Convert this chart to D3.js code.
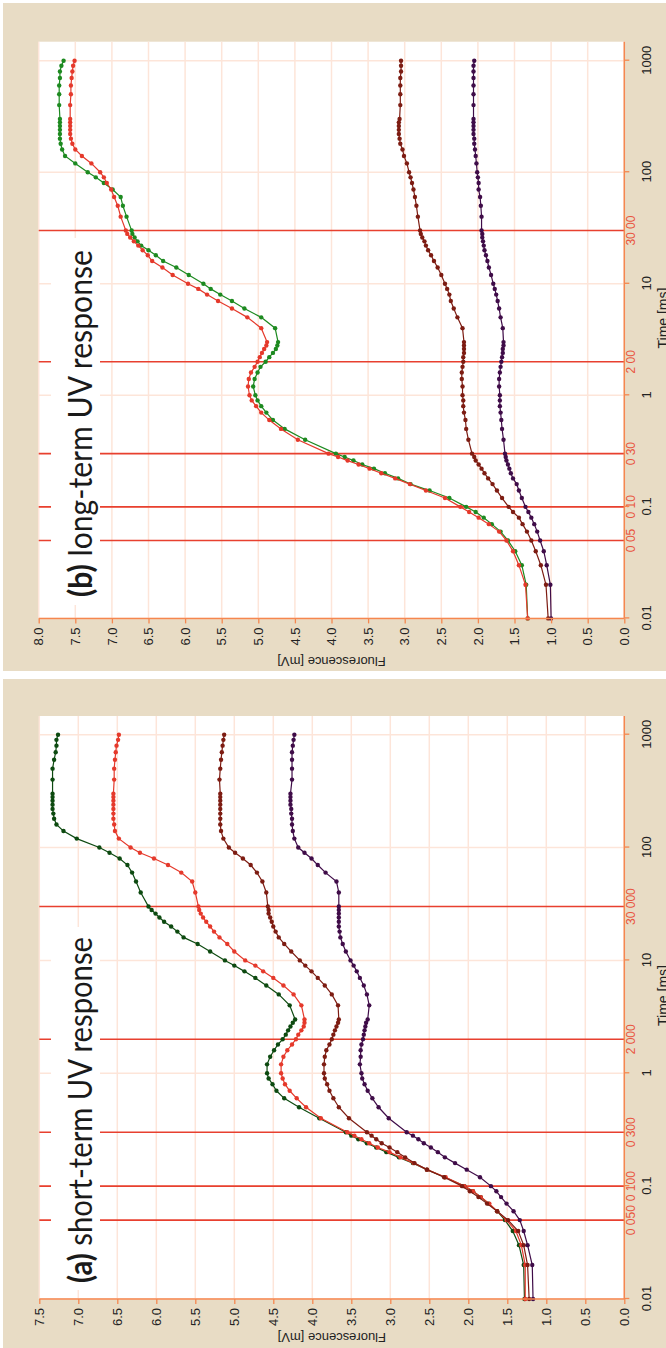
<!DOCTYPE html>
<html>
<head>
<meta charset="utf-8">
<script src="https://cdnjs.cloudflare.com/ajax/libs/d3/7.8.5/d3.min.js"></script>
<style>
  html, body { margin: 0; padding: 0; background: #fff; }
  svg { display: block; }
</style>
</head>
<body>
<div id="chart"></div>
<script>
// time points (ms), shared by every trace
const times = [0.01, 0.02, 0.03, 0.04, 0.05, 0.06, 0.07, 0.08, 0.09, 0.1,
  0.12, 0.14, 0.16, 0.18, 0.2, 0.22, 0.24, 0.26, 0.28, 0.3,
  0.4, 0.5, 0.6, 0.7, 0.8, 0.9, 1,
  1.2, 1.4, 1.6, 1.8, 2, 2.2, 2.4, 2.6, 2.8, 3,
  4, 5, 6, 7, 8, 9, 10,
  12, 14, 16, 18, 20, 22, 24, 26, 28, 30,
  40, 50, 60, 70, 80, 90, 100,
  120, 140, 160, 180, 200, 220, 240, 260, 280, 300,
  400, 500, 600, 700, 800, 900, 1000];

// (a) short-term UV response, fluorescence in mV
const aGreen = [1.28, 1.29, 1.35, 1.43, 1.53, 1.63, 1.74, 1.84, 1.94, 2.05,
  2.30, 2.53, 2.71, 2.89, 3.05, 3.18, 3.30, 3.41, 3.50, 3.57,
  3.91, 4.17, 4.36, 4.46, 4.51, 4.56, 4.58,
  4.58, 4.54, 4.49, 4.44, 4.38, 4.34, 4.31, 4.28, 4.25, 4.22,
  4.29, 4.43, 4.59, 4.73, 4.87, 5.00, 5.12,
  5.31, 5.47, 5.65, 5.73, 5.81, 5.90, 5.96, 6.01, 6.06, 6.10,
  6.20, 6.26, 6.31, 6.37, 6.47, 6.60, 6.73,
  7.02, 7.19, 7.28, 7.31, 7.32, 7.33, 7.33, 7.33, 7.33, 7.33,
  7.33, 7.33, 7.31, 7.29, 7.28, 7.28, 7.26];
const aRed = [1.27, 1.27, 1.32, 1.39, 1.51, 1.63, 1.73, 1.84, 1.94, 2.05,
  2.29, 2.53, 2.70, 2.87, 3.01, 3.16, 3.27, 3.37, 3.46, 3.55,
  3.89, 4.08, 4.20, 4.29, 4.35, 4.38, 4.40,
  4.40, 4.37, 4.32, 4.26, 4.21, 4.18, 4.14, 4.11, 4.10, 4.10,
  4.14, 4.24, 4.37, 4.50, 4.63, 4.73, 4.86,
  5.00, 5.09, 5.19, 5.26, 5.31, 5.36, 5.40, 5.43, 5.45, 5.46,
  5.50, 5.54, 5.68, 5.85, 6.03, 6.21, 6.33,
  6.48, 6.53, 6.54, 6.55, 6.55, 6.55, 6.55, 6.55, 6.55, 6.55,
  6.54, 6.54, 6.53, 6.52, 6.51, 6.49, 6.48];
const aBrown = [1.22, 1.24, 1.29, 1.36, 1.49, 1.63, 1.76, 1.87, 1.98, 2.08,
  2.31, 2.53, 2.69, 2.81, 2.91, 3.01, 3.11, 3.18, 3.24, 3.30,
  3.53, 3.66, 3.73, 3.78, 3.81, 3.84, 3.85,
  3.85, 3.84, 3.82, 3.78, 3.75, 3.73, 3.71, 3.69, 3.67, 3.66,
  3.67, 3.75, 3.84, 3.93, 4.01, 4.09, 4.16,
  4.27, 4.36, 4.43, 4.47, 4.50, 4.52, 4.54, 4.56, 4.56, 4.57,
  4.59, 4.64, 4.71, 4.79, 4.89, 4.99, 5.07,
  5.14, 5.17, 5.18, 5.18, 5.18, 5.18, 5.18, 5.18, 5.18, 5.18,
  5.19, 5.18, 5.17, 5.16, 5.15, 5.14, 5.13];
const aPurple = [1.17, 1.18, 1.24, 1.29, 1.34, 1.42, 1.51, 1.58, 1.64, 1.71,
  1.85, 2.02, 2.17, 2.30, 2.39, 2.48, 2.57, 2.64, 2.71, 2.79,
  3.02, 3.15, 3.23, 3.29, 3.33, 3.36, 3.37,
  3.39, 3.38, 3.38, 3.37, 3.35, 3.34, 3.33, 3.32, 3.31, 3.29,
  3.27, 3.30, 3.34, 3.39, 3.43, 3.47, 3.51,
  3.57, 3.61, 3.64, 3.65, 3.66, 3.66, 3.66, 3.66, 3.66, 3.66,
  3.66, 3.69, 3.83, 3.93, 4.01, 4.10, 4.18,
  4.23, 4.25, 4.26, 4.26, 4.27, 4.27, 4.28, 4.28, 4.28, 4.28,
  4.26, 4.26, 4.26, 4.26, 4.25, 4.24, 4.23];

// (b) long-term UV response
const bGreen = [1.32, 1.34, 1.40, 1.49, 1.59, 1.69, 1.81, 1.92, 2.03, 2.16,
  2.39, 2.66, 2.92, 3.09, 3.27, 3.42, 3.58, 3.70, 3.82, 3.94,
  4.36, 4.64, 4.80, 4.89, 4.96, 5.01, 5.04,
  5.07, 5.05, 5.01, 4.97, 4.90, 4.85, 4.80, 4.76, 4.74, 4.73,
  4.77, 4.96, 5.19, 5.36, 5.52, 5.65, 5.75,
  5.95, 6.12, 6.30, 6.40, 6.50, 6.60, 6.65, 6.69, 6.72, 6.73,
  6.80, 6.85, 6.88, 6.99, 7.11, 7.22, 7.33,
  7.50, 7.64, 7.68, 7.70, 7.71, 7.71, 7.71, 7.71, 7.71, 7.71,
  7.72, 7.72, 7.72, 7.71, 7.71, 7.69, 7.66];
const bRed = [1.32, 1.35, 1.44, 1.52, 1.61, 1.71, 1.85, 1.99, 2.12, 2.24,
  2.45, 2.71, 2.93, 3.13, 3.32, 3.48, 3.63, 3.78, 3.91, 4.04,
  4.46, 4.69, 4.85, 4.96, 5.03, 5.09, 5.12,
  5.14, 5.13, 5.10, 5.05, 5.01, 4.98, 4.95, 4.92, 4.89, 4.88,
  4.96, 5.15, 5.36, 5.55, 5.70, 5.82, 5.96,
  6.17, 6.31, 6.45, 6.51, 6.58, 6.64, 6.70, 6.75, 6.79, 6.81,
  6.88, 6.92, 6.97, 7.01, 7.07, 7.11, 7.16,
  7.28, 7.41, 7.50, 7.54, 7.56, 7.57, 7.57, 7.57, 7.57, 7.57,
  7.57, 7.56, 7.56, 7.55, 7.54, 7.53, 7.51];
const bBrown = [1.04, 1.07, 1.14, 1.21, 1.27, 1.33, 1.39, 1.44, 1.52, 1.58,
  1.67, 1.74, 1.80, 1.86, 1.91, 1.95, 1.99, 2.03, 2.05, 2.08,
  2.13, 2.16, 2.17, 2.19, 2.20, 2.20, 2.21,
  2.21, 2.22, 2.22, 2.21, 2.20, 2.20, 2.19, 2.19, 2.19, 2.19,
  2.21, 2.28, 2.33, 2.37, 2.39, 2.42, 2.45,
  2.50, 2.55, 2.60, 2.64, 2.68, 2.71, 2.73, 2.76, 2.78, 2.79,
  2.82, 2.84, 2.86, 2.88, 2.90, 2.92, 2.94,
  2.97, 3.01, 3.03, 3.06, 3.07, 3.08, 3.08, 3.08, 3.08, 3.07,
  3.06, 3.06, 3.06, 3.06, 3.05, 3.05, 3.05];
const bPurple = [1.00, 1.01, 1.06, 1.10, 1.15, 1.19, 1.23, 1.27, 1.31, 1.35,
  1.40, 1.44, 1.47, 1.52, 1.55, 1.57, 1.59, 1.61, 1.62, 1.63,
  1.65, 1.67, 1.68, 1.69, 1.70, 1.70, 1.70,
  1.71, 1.71, 1.70, 1.69, 1.68, 1.67, 1.66, 1.66, 1.65, 1.65,
  1.66, 1.69, 1.71, 1.73, 1.75, 1.77, 1.79,
  1.82, 1.85, 1.87, 1.89, 1.91, 1.92, 1.93, 1.94, 1.94, 1.95,
  1.95, 1.96, 1.97, 1.99, 1.99, 2.00, 2.01,
  2.02, 2.03, 2.04, 2.05, 2.05, 2.06, 2.06, 2.06, 2.06, 2.06,
  2.06, 2.06, 2.06, 2.06, 2.06, 2.06, 2.05];

// axis ticks and marker lines
const timeTicks = [0.01, 0.1, 1, 10, 100, 1000];
const fluorTicksA = [0, 0.5, 1, 1.5, 2, 2.5, 3, 3.5, 4, 4.5, 5, 5.5, 6, 6.5, 7, 7.5];
const fluorTicksB = [0, 0.5, 1, 1.5, 2, 2.5, 3, 3.5, 4, 4.5, 5, 5.5, 6, 6.5, 7, 7.5, 8];
const markTimes = [0.05, 0.1, 0.3, 2, 30];
const markLabelsA = ['0 050', '0 100', '0 300', '2 000', '30 000'];
const markLabelsB = ['0 05', '0 10', '0 30', '2 00', '30 00'];

const beige = '#e8dcc5';
const axisColor = '#f5874f';
const gridColor = '#fde5d9';
const markColor = '#e8402f';

// the picture is the landscape figure turned a quarter turn counter-clockwise
const svg = d3.select('#chart').append('svg')
    .attr('width', 666)
    .attr('height', 1348);
svg.append('rect').attr('width', 666).attr('height', 1348).attr('fill', '#fff');

const root = svg.append('g').attr('transform', 'translate(0,1348) rotate(-90)');

const panels = [
    {
        bg: [0, 669],
        plot: { left: 49, right: 632, top: 39.3, bottom: 624.3 },
        tRange: [49, 613.3],
        fMax: 7.5,
        fTicks: fluorTicksA,
        labels: markLabelsA,
        title: ['(a)', ' short-term UV response'],
        titleX: 65, titleLen: 346,
        box: [58, 421],
        yTitleX: 15,
        series: [
            { values: aGreen, color: '#0d4a10' },
            { values: aRed, color: '#e5392b' },
            { values: aBrown, color: '#7d1c12' },
            { values: aPurple, color: '#3f0c48' }
        ]
    },
    {
        bg: [677, 1345],
        plot: { left: 729.6, right: 1306.3, top: 38.7, bottom: 624.3 },
        tRange: [729.6, 1287.3],
        fMax: 8,
        fTicks: fluorTicksB,
        labels: markLabelsB,
        title: ['(b)', ' long-term UV response'],
        titleX: 751, titleLen: 347,
        box: [743, 1110],
        yTitleX: 691,
        series: [
            { values: bGreen, color: '#1d8a20' },
            { values: bRed, color: '#e5392b' },
            { values: bBrown, color: '#7d1c12' },
            { values: bPurple, color: '#3f0c48' }
        ]
    }
];

panels.forEach(drawPanel);

function drawPanel(p) {
    const g = root.append('g');
    const pl = p.plot;

    const x = d3.scaleLog().domain([0.01, 1000]).range(p.tRange);
    const y = d3.scaleLinear().domain([0, p.fMax]).range([pl.bottom, pl.top]);

    // panel background and plot area
    g.append('rect')
        .attr('x', p.bg[0]).attr('y', 3)
        .attr('width', p.bg[1] - p.bg[0]).attr('height', 663)
        .attr('fill', beige);
    g.append('rect')
        .attr('x', pl.left).attr('y', pl.top)
        .attr('width', pl.right - pl.left).attr('height', pl.bottom - pl.top)
        .attr('fill', '#fff');

    // grid
    g.append('g').selectAll('line')
        .data(timeTicks)
        .join('line')
        .attr('x1', d => x(d)).attr('x2', d => x(d))
        .attr('y1', pl.top).attr('y2', pl.bottom)
        .attr('stroke', gridColor).attr('stroke-width', 1.5);
    g.append('g').selectAll('line')
        .data(p.fTicks)
        .join('line')
        .attr('x1', pl.left).attr('x2', pl.right)
        .attr('y1', d => y(d)).attr('y2', d => y(d))
        .attr('stroke', gridColor).attr('stroke-width', 1.5);

    // red marker lines at the O, K, J, I, P times
    g.append('g').selectAll('line')
        .data(markTimes)
        .join('line')
        .attr('x1', d => x(d)).attr('x2', d => x(d))
        .attr('y1', pl.top).attr('y2', pl.bottom)
        .attr('stroke', markColor).attr('stroke-width', 1.6);
    g.append('g').selectAll('text')
        .data(markTimes)
        .join('text')
        .attr('x', d => x(d))
        .attr('y', pl.bottom + 11)
        .attr('text-anchor', 'middle')
        .attr('font-family', 'Liberation Sans, Arial, sans-serif')
        .attr('font-size', 12)
        .attr('fill', '#e8553f')
        .text((d, i) => p.labels[i]);

    // title with its white box
    g.append('rect')
        .attr('x', p.box[0]).attr('y', 51)
        .attr('width', p.box[1] - p.box[0]).attr('height', 49)
        .attr('fill', '#fff');
    const title = g.append('text')
        .attr('x', p.titleX).attr('y', 92)
        .attr('font-family', 'Lato, Open Sans, sans-serif')
        .attr('font-size', 33)
        .attr('fill', '#1a1a1a')
        .attr('textLength', p.titleLen)
        .attr('lengthAdjust', 'spacingAndGlyphs');
    title.append('tspan').attr('font-weight', 'bold').text(p.title[0]);
    title.append('tspan').text(p.title[1]);

    // traces
    const line = d3.line()
        .x((d, i) => x(times[i]))
        .y(d => y(d));
    p.series.forEach(s => {
        const sg = g.append('g');
        sg.append('path')
            .datum(s.values)
            .attr('d', line)
            .attr('fill', 'none')
            .attr('stroke', s.color)
            .attr('stroke-width', 1.2);
        sg.selectAll('circle')
            .data(s.values)
            .join('circle')
            .attr('cx', (d, i) => x(times[i]))
            .attr('cy', d => y(d))
            .attr('r', 2.2)
            .attr('fill', s.color);
    });

    // axes
    const xAxis = g.append('g')
        .attr('transform', `translate(0,${pl.bottom})`)
        .call(d3.axisBottom(x).tickValues(timeTicks).tickFormat(d => String(d)).tickSize(5).tickSizeOuter(0));
    const yAxis = g.append('g')
        .attr('transform', `translate(${pl.left},0)`)
        .call(d3.axisLeft(y).tickValues(p.fTicks).tickFormat(d3.format('.1f')).tickSize(5).tickSizeOuter(0));
    [xAxis, yAxis].forEach(ax => {
        ax.select('.domain').remove();
        ax.selectAll('.tick line').attr('stroke', axisColor).attr('stroke-width', 1.3);
        ax.selectAll('.tick text')
            .attr('fill', '#222')
            .attr('font-family', 'Liberation Sans, Arial, sans-serif')
            .attr('font-size', 13);
    });
    xAxis.selectAll('.tick text').attr('y', 17);
    yAxis.selectAll('.tick text').attr('x', -9);

    g.append('line')
        .attr('x1', pl.left).attr('x2', pl.right)
        .attr('y1', pl.bottom).attr('y2', pl.bottom)
        .attr('stroke', axisColor).attr('stroke-width', 1.5);
    g.append('line')
        .attr('x1', pl.left).attr('x2', pl.left)
        .attr('y1', pl.top).attr('y2', pl.bottom)
        .attr('stroke', axisColor).attr('stroke-width', 1.5);

    // axis titles (the time title is cut by the page edge in the original too)
    g.append('text')
        .attr('x', (pl.left + pl.right) / 2 + 12)
        .attr('y', 668)
        .attr('text-anchor', 'middle')
        .attr('font-family', 'Liberation Sans, Arial, sans-serif')
        .attr('font-size', 14)
        .attr('fill', '#222')
        .text('Time [ms]');
    g.append('text')
        .attr('transform', `translate(${p.yTitleX},${(pl.top + pl.bottom) / 2}) rotate(-90)`)
        .attr('text-anchor', 'middle')
        .attr('font-family', 'Liberation Sans, Arial, sans-serif')
        .attr('font-size', 13)
        .attr('fill', '#222')
        .text('Fluorescence [mV]');
}
</script>
</body>
</html>
